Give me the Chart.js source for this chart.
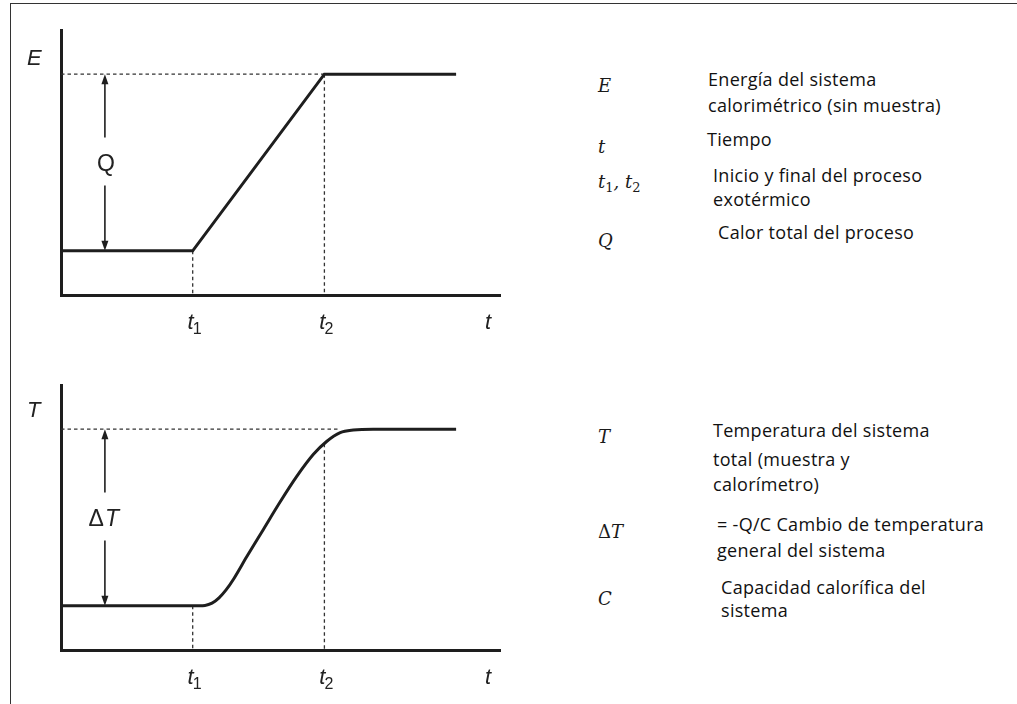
<!DOCTYPE html>
<html>
<head>
<meta charset="utf-8">
<script src="https://cdn.jsdelivr.net/npm/chart.js@4.4.1/dist/chart.umd.min.js"></script>
<style>
  body { margin: 0; background: #fff; width: 1017px; height: 704px; overflow: hidden; }
  #frame { position: absolute; left: 10px; top: 3px; width: 1010px; height: 705px;
           border-top: 1px solid #333; border-left: 1px solid #333; }
  canvas { position: absolute; left: 0; }
  .txt { position: absolute; font-family: "Open Sans", sans-serif; font-size: 18px;
         letter-spacing: 0.3px; color: #111; white-space: nowrap; line-height: 1.2; }
  .sym { position: absolute; font-family: "DejaVu Serif", serif; font-style: italic;
         font-size: 18px; color: #1a1a1a; white-space: nowrap; line-height: 1.2; }
  .sym sub { font-size: 13px; font-style: normal; vertical-align: -4px; }
</style>
</head>
<body>
<div id="frame"></div>
<canvas id="energyChart" width="520" height="350" style="top:0"></canvas>
<canvas id="tempChart" width="520" height="349" style="top:355px"></canvas>

<div class="sym" style="left:598px;top:75px">E</div>
<div class="txt" style="left:708px;top:69px">Energía del sistema</div>
<div class="txt" style="left:708px;top:95px">calorimétrico (sin muestra)</div>

<div class="sym" style="left:598px;top:136px">t</div>
<div class="txt" style="left:707px;top:129px">Tiempo</div>

<div class="sym" style="left:598px;top:171px">t<sub>1</sub>, t<sub>2</sub></div>
<div class="txt" style="left:713px;top:165px">Inicio y final del proceso</div>
<div class="txt" style="left:713px;top:189px">exotérmico</div>

<div class="sym" style="left:598px;top:230px">Q</div>
<div class="txt" style="left:718px;top:222px">Calor total del proceso</div>

<div class="sym" style="left:598px;top:426px">T</div>
<div class="txt" style="left:713px;top:420px">Temperatura del sistema</div>
<div class="txt" style="left:713px;top:449px">total (muestra y</div>
<div class="txt" style="left:713px;top:474px">calorímetro)</div>

<div class="sym" style="left:598px;top:521px"><span style="font-style:normal">Δ</span>T</div>
<div class="txt" style="left:717px;top:514px">= -Q/C Cambio de temperatura</div>
<div class="txt" style="left:717px;top:540px">general del sistema</div>

<div class="sym" style="left:598px;top:588px">C</div>
<div class="txt" style="left:721px;top:577px">Capacidad calorífica del</div>
<div class="txt" style="left:721px;top:600px">sistema</div>

<script>
// tiempos de referencia y etiquetas del eje t
var tMarks = [3, 6];
var tLabels = ['1', '2'];
var xMax = 10;
var yMax = 6;

// energia del sistema calorimetrico
var energyTime = [0, 3, 6, 9];
var energyValues = [1, 1, 5, 5];

// temperatura del sistema total
var tempTime = [0, 3, 3.28, 3.44, 3.60, 3.76, 3.94, 4.23, 4.61, 4.99, 5.37, 5.75, 6.05, 6.36, 6.66, 7.11, 9];
var tempValues = [1, 1, 1.01, 1.06, 1.18, 1.36, 1.62, 2.11, 2.73, 3.35, 3.93, 4.43, 4.72, 4.92, 4.98, 5, 5];

var ink = '#1e1e1e';

function toPoints(xs, ys) {
    return xs.map(function (x, i) { return { x: x, y: ys[i] }; });
}

// valor de la curva en un tiempo dado (para cortar la guia de t2)
function valueAt(xs, ys, t) {
    for (var i = 1; i < xs.length; i++) {
        if (t <= xs[i]) {
            var f = (t - xs[i - 1]) / (xs[i] - xs[i - 1]);
            return ys[i - 1] + f * (ys[i] - ys[i - 1]);
        }
    }
    return ys[ys.length - 1];
}

function dashed(ctx, x1, y1, x2, y2) {
    ctx.save();
    ctx.strokeStyle = '#333';
    ctx.lineWidth = 1.3;
    ctx.setLineDash([3.5, 3]);
    ctx.beginPath();
    ctx.moveTo(x1, y1);
    ctx.lineTo(x2, y2);
    ctx.stroke();
    ctx.restore();
}

function arrowSegment(ctx, x, yFrom, yTo) {
    var dir = yTo > yFrom ? 1 : -1;
    ctx.save();
    ctx.strokeStyle = ink;
    ctx.fillStyle = ink;
    ctx.lineWidth = 1.6;
    ctx.beginPath();
    ctx.moveTo(x, yFrom);
    ctx.lineTo(x, yTo - dir * 8);
    ctx.stroke();
    ctx.beginPath();
    ctx.moveTo(x, yTo);
    ctx.lineTo(x - 3.5, yTo - dir * 10);
    ctx.lineTo(x + 3.5, yTo - dir * 10);
    ctx.closePath();
    ctx.fill();
    ctx.restore();
}

// guias punteadas, flecha doble y letras del diagrama
function diagramPlugin(opts) {
    return {
        id: 'diagram',
        beforeDatasetsDraw: function (chart) {
            var ctx = chart.ctx;
            var xs = chart.scales.x, ys = chart.scales.y;
            var left = xs.getPixelForValue(0), bottom = ys.getPixelForValue(0);
            var low = ys.getPixelForValue(opts.low), high = ys.getPixelForValue(opts.high);

            dashed(ctx, left, high, xs.getPixelForValue(opts.topGuideEnd), high);
            dashed(ctx, xs.getPixelForValue(tMarks[0]), low, xs.getPixelForValue(tMarks[0]), bottom);
            var y2 = ys.getPixelForValue(valueAt(opts.times, opts.values, tMarks[1]));
            dashed(ctx, xs.getPixelForValue(tMarks[1]), y2, xs.getPixelForValue(tMarks[1]), bottom);

            var ax = xs.getPixelForValue(1);
            var mid = (low + high) / 2;
            arrowSegment(ctx, ax, mid - 25, high);
            arrowSegment(ctx, ax, mid + 23, low);

            ctx.save();
            ctx.fillStyle = '#222';
            ctx.textBaseline = 'alphabetic';
            ctx.textAlign = 'center';
            // letra del salto (Q o delta T)
            if (opts.gapLabel === 'Q') {
                ctx.font = '23px "Liberation Sans"';
                ctx.fillText('Q', ax + 1, mid + 8);
            } else {
                ctx.font = '23px "Liberation Sans"';
                ctx.textAlign = 'right';
                ctx.fillText('\u0394', ax - 1, mid + 8);
                ctx.textAlign = 'left';
                ctx.font = 'italic 23px "Liberation Sans"';
                ctx.fillText('T', ax, mid + 8);
            }
            // nombre del eje vertical
            ctx.textAlign = 'left';
            ctx.font = 'italic 22px "Liberation Sans"';
            ctx.fillText(opts.yName, 27, ys.top + opts.nameDrop);

            // etiquetas del eje de tiempo
            var base = bottom + 34;
            tMarks.forEach(function (t, i) {
                var px = xs.getPixelForValue(t);
                ctx.font = 'italic 22px "Liberation Sans"';
                ctx.textAlign = 'right';
                ctx.fillText('t', px + 1, base);
                ctx.font = '16px "Liberation Sans"';
                ctx.textAlign = 'left';
                ctx.fillText(tLabels[i], px, base + 5);
            });
            ctx.font = 'italic 22px "Liberation Sans"';
            ctx.textAlign = 'center';
            ctx.fillText('t', xs.getPixelForValue(9.73), base);
            ctx.restore();
        }
    };
}

function makeChart(id, times, values, smooth, opts) {
    opts.times = times;
    opts.values = values;
    return new Chart(id, {
        type: 'scatter',
        data: {
            datasets: [{
                data: toPoints(times, values),
                showLine: true,
                borderColor: ink,
                borderWidth: 3,
                pointRadius: 0,
                cubicInterpolationMode: smooth ? 'monotone' : 'default',
                tension: 0
            }]
        },
        options: {
            responsive: false,
            animation: false,
            devicePixelRatio: 1,
            layout: { padding: { left: 61, top: 30, right: 20, bottom: opts.padBottom } },
            plugins: { legend: { display: false }, tooltip: { enabled: false } },
            scales: {
                x: {
                    type: 'linear', min: 0, max: xMax,
                    ticks: { display: false },
                    grid: { display: false, drawTicks: false },
                    border: { display: true, width: 3, color: ink }
                },
                y: {
                    type: 'linear', min: 0, max: yMax,
                    ticks: { display: false },
                    grid: { display: false, drawTicks: false },
                    border: { display: true, width: 3, color: ink }
                }
            }
        },
        plugins: [diagramPlugin(opts)]
    });
}

makeChart('energyChart', energyTime, energyValues, false, {
    low: 1, high: 5, topGuideEnd: 6, gapLabel: 'Q', yName: 'E', nameDrop: 35, padBottom: 55
});
makeChart('tempChart', tempTime, tempValues, true, {
    low: 1, high: 5, topGuideEnd: 6.36, gapLabel: 'dT', yName: 'T', nameDrop: 32, padBottom: 54
});
</script>
</body>
</html>
